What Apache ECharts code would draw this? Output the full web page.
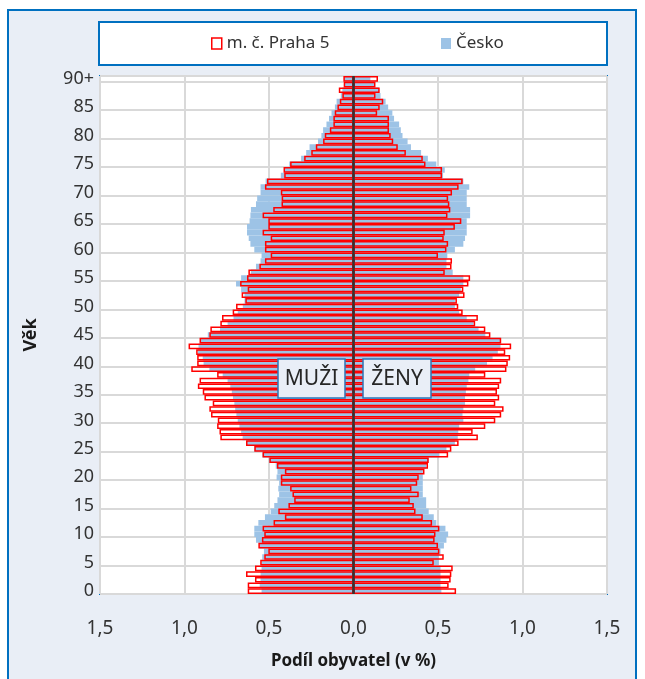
<!DOCTYPE html>
<html>
<head>
<meta charset="utf-8">
<script src="https://cdn.jsdelivr.net/npm/echarts@6/dist/echarts.min.js"></script>
<style>
html,body{margin:0;padding:0;background:#fff;}
#chart{width:645px;height:679px;}
</style>
</head>
<body>
<div id="chart"></div>
<script>
// Age categories (0 ... 90+)
const ages = ['0','1','2','3','4','5','6','7','8','9','10','11','12','13','14','15','16','17','18','19',
'20','21','22','23','24','25','26','27','28','29','30','31','32','33','34','35','36','37','38','39',
'40','41','42','43','44','45','46','47','48','49','50','51','52','53','54','55','56','57','58','59',
'60','61','62','63','64','65','66','67','68','69','70','71','72','73','74','75','76','77','78','79',
'80','81','82','83','84','85','86','87','88','89','90+'];

// Share of population (%), index = age
const maleCesko = [0.544,0.555,0.55,0.55,0.544,0.544,0.54,0.53,0.557,0.577,
0.587,0.587,0.563,0.524,0.49,0.469,0.45,0.44,0.445,0.44,
0.455,0.45,0.46,0.50,0.54,0.587,0.63,0.656,0.665,0.675,
0.685,0.693,0.70,0.705,0.713,0.72,0.729,0.745,0.774,0.853,
0.887,0.892,0.92,0.917,0.905,0.862,0.79,0.745,0.71,0.685,
0.655,0.645,0.645,0.665,0.695,0.665,0.607,0.577,0.55,0.544,
0.587,0.61,0.62,0.63,0.63,0.615,0.61,0.607,0.577,0.57,
0.55,0.55,0.52,0.43,0.41,0.38,0.31,0.28,0.26,0.21,
0.19,0.18,0.16,0.145,0.13,0.11,0.10,0.075,0.066,0.055,0.055];

const malePraha5 = [0.626,0.626,0.583,0.636,0.583,0.552,0.528,0.504,0.563,0.542,
0.528,0.538,0.473,0.406,0.445,0.385,0.351,0.361,0.375,0.43,
0.43,0.406,0.453,0.498,0.538,0.587,0.636,0.788,0.793,0.807,
0.803,0.843,0.853,0.833,0.882,0.892,0.921,0.911,0.807,0.96,
0.925,0.925,0.931,0.976,0.911,0.853,0.847,0.788,0.778,0.715,
0.695,0.64,0.662,0.626,0.671,0.63,0.622,0.557,0.524,0.49,
0.524,0.524,0.49,0.538,0.504,0.504,0.538,0.475,0.426,0.425,
0.43,0.524,0.512,0.41,0.414,0.375,0.292,0.25,0.223,0.18,
0.17,0.14,0.119,0.119,0.111,0.095,0.081,0.066,0.087,0.058,0.06];

const femaleCesko = [0.52,0.515,0.515,0.515,0.515,0.505,0.505,0.515,0.535,0.55,
0.56,0.544,0.49,0.475,0.445,0.43,0.43,0.41,0.41,0.41,
0.41,0.41,0.43,0.445,0.508,0.55,0.60,0.617,0.62,0.625,
0.65,0.645,0.65,0.66,0.66,0.665,0.67,0.68,0.685,0.72,
0.79,0.823,0.854,0.87,0.87,0.78,0.74,0.71,0.67,0.625,
0.60,0.60,0.625,0.635,0.65,0.65,0.587,0.55,0.55,0.555,
0.60,0.65,0.66,0.67,0.67,0.67,0.69,0.69,0.67,0.67,
0.67,0.685,0.65,0.53,0.54,0.49,0.44,0.40,0.34,0.32,
0.29,0.28,0.27,0.24,0.23,0.205,0.19,0.16,0.15,0.125,0.10];

const femalePraha5 = [0.607,0.563,0.575,0.579,0.587,0.475,0.534,0.508,0.50,0.48,
0.485,0.508,0.465,0.41,0.367,0.357,0.333,0.386,0.343,0.377,
0.386,0.42,0.441,0.445,0.56,0.579,0.622,0.736,0.705,0.78,
0.839,0.874,0.888,0.839,0.862,0.849,0.862,0.874,0.78,0.905,
0.913,0.927,0.898,0.933,0.874,0.81,0.78,0.72,0.736,0.646,
0.62,0.612,0.657,0.65,0.68,0.69,0.54,0.58,0.583,0.50,
0.55,0.56,0.534,0.54,0.60,0.638,0.556,0.573,0.567,0.56,
0.583,0.622,0.646,0.524,0.524,0.426,0.41,0.31,0.262,0.235,
0.22,0.21,0.21,0.21,0.14,0.155,0.176,0.13,0.155,0.13,0.145];

const NAME_P = 'm. č. Praha 5';
const NAME_C = 'Česko';
const FONT = 'Noto Sans';
const BLUE = '#9DC3E6';
const RED = '#FF0000';
const FRAME = '#0070C0';

const chart = echarts.init(document.getElementById('chart'), null, {renderer:'canvas'});

const redStyle = {color:'rgba(0,0,0,0)', borderColor:RED, borderWidth:1.5};

chart.setOption({
  backgroundColor:'#fff',
  animation:false,
  textStyle:{fontFamily:FONT},
  graphic:[
    {type:'rect', z:-100, shape:{x:8, y:10, width:628, height:690},
     style:{fill:'#E9EEF6', stroke:FRAME, lineWidth:2}},
    {type:'rect', z:-99, shape:{x:99, y:22, width:508, height:43},
     style:{fill:'#fff', stroke:FRAME, lineWidth:2}},
    {type:'group', z:100, children:[
      {type:'rect', z:100, shape:{x:278, y:359, width:67, height:39},
       style:{fill:'#E9EEF7', stroke:'#2E75B6', lineWidth:1.5}},
      {type:'text', z:101, style:{x:311.5, y:379, text:'MUŽI', fill:'#262626',
        font:'21px "Noto Sans"', align:'center', verticalAlign:'middle'}},
      {type:'rect', z:100, shape:{x:363, y:359, width:68, height:39},
       style:{fill:'#E9EEF7', stroke:'#2E75B6', lineWidth:1.5}},
      {type:'text', z:101, style:{x:397, y:379, text:'ŽENY', fill:'#262626',
        font:'21px "Noto Sans"', align:'center', verticalAlign:'middle'}}
    ]}
  ],
  legend:[
    {left:211, top:35, padding:0, itemWidth:10, itemHeight:11, itemGap:0,
     textStyle:{fontSize:17, color:'#333', fontFamily:FONT},
     data:[{name:NAME_P, icon:'rect', itemStyle:{color:'#fff', borderColor:RED, borderWidth:1.5}}]},
    {left:441, top:35, padding:0, itemWidth:10, itemHeight:11, itemGap:0,
     textStyle:{fontSize:17, color:'#333', fontFamily:FONT},
     data:[{name:NAME_C, icon:'rect', itemStyle:{color:BLUE}}]}
  ],
  grid:{left:100, right:38, top:76, bottom:85, show:true, backgroundColor:'#fff',
        borderColor:FRAME, borderWidth:2, containLabel:false},
  xAxis:{
    type:'value', min:-1.5, max:1.5, interval:0.5,
    axisLine:{show:false}, axisTick:{show:false},
    splitLine:{show:true, lineStyle:{color:'#D9D9D9', width:2}},
    axisLabel:{fontSize:19, color:'#333', margin:25, fontFamily:FONT,
      formatter:function(v){return Math.abs(v).toFixed(1).replace('.',',');}},
    name:'Podíl obyvatel (v %)', nameLocation:'middle', nameGap:59,
    nameTextStyle:{fontSize:17, fontWeight:'bold', color:'#1a1a1a', fontFamily:FONT}
  },
  yAxis:{
    type:'category', data:ages, boundaryGap:true,
    axisLine:{show:false}, axisTick:{show:false},
    axisLabel:{fontSize:18, color:'#333', margin:6, fontFamily:FONT,
      interval:function(i){return i%5===0;}},
    splitLine:{show:true, interval:function(i){return i%5===0;},
      lineStyle:{color:'#D9D9D9', width:2}},
    name:'Věk', nameLocation:'middle', nameGap:60, nameRotate:90,
    nameTextStyle:{fontSize:18, fontWeight:'bold', color:'#1a1a1a', fontFamily:FONT}
  },
  series:[
    {name:NAME_C, type:'bar', barGap:'-100%', barCategoryGap:'0%',
     itemStyle:{color:BLUE}, data:maleCesko.map(function(v){return -v;})},
    {name:NAME_C, type:'bar', barGap:'-100%', barCategoryGap:'0%',
     itemStyle:{color:BLUE}, data:femaleCesko},
    {name:NAME_P, type:'bar', barGap:'-100%', barCategoryGap:'0%',
     itemStyle:redStyle, data:malePraha5.map(function(v){return -v;})},
    {name:NAME_P, type:'bar', barGap:'-100%', barCategoryGap:'0%',
     itemStyle:redStyle, data:femalePraha5},
    {name:'zero', type:'line', data:[], z:20, silent:true,
     markLine:{silent:true, symbol:'none', label:{show:false}, z:20,
       lineStyle:{color:'#333333', width:2.5, type:'solid'},
       data:[{xAxis:0}]}}
  ]
});
</script>
</body>
</html>
